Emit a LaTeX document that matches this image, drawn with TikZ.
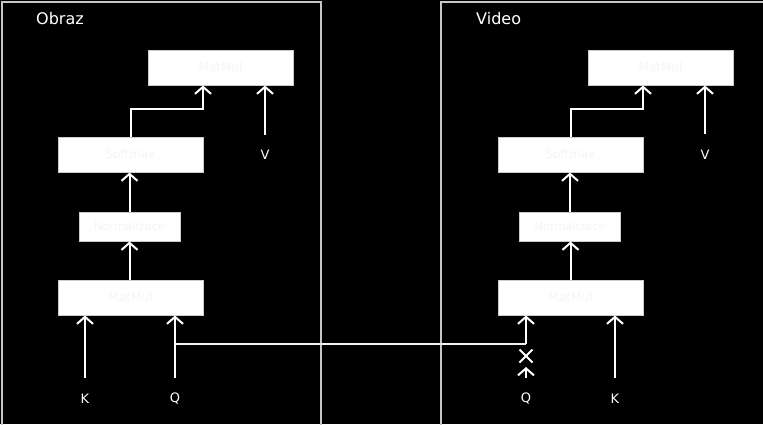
\documentclass[tikz,border=0pt]{standalone}
\usepackage{fontspec}
\setmainfont{DejaVu Sans}
\usetikzlibrary{arrows.meta,shapes.misc}
\begin{document}
\begin{tikzpicture}[x=1pt,y=-1pt,
  panel/.style={draw=gray!45!white,line width=2pt},
  box/.style={draw=gray!40!white,fill=white,line width=1pt,text=white!96!black,font=\fontsize{12}{14}\selectfont,inner sep=0pt},
  wide/.style={box,minimum width=145pt,minimum height=35pt},
  narrow/.style={box,minimum width=101pt,minimum height=29pt,font=\fontsize{11.5}{13}\selectfont},
  arr/.style={draw=white,line width=2pt,-{Straight Barb[length=7pt,width=16pt]}},
  conn/.style={draw=white!90!gray,line width=2pt},
  lbl/.style={text=white,font=\fontsize{13}{15}\selectfont,inner sep=0pt},
  ttl/.style={text=white,font=\fontsize{16}{18}\selectfont,inner sep=0pt,anchor=west},
  xmark/.style={cross out,draw=white,line width=2pt,minimum width=11pt,minimum height=11pt,inner sep=0pt}
]
\fill[black] (0,0) rectangle (763,424);
\useasboundingbox (0,0) rectangle (763,424);
% panels
\draw[panel] (2,428) -- (2,2) -- (321,2) -- (321,428);
\draw[panel] (441,428) -- (441,2) -- (766,2);
\node[ttl] (tObraz) at (36,19) {Obraz};
\node[ttl] (tVideo) at (476,19) {Video};
% left column
\node[wide] (mmTopL) at (220.5,67.5) {MatMul};
\node[wide] (smL) at (130.5,154.5) {Softmax};
\node[narrow] (nL) at (129.5,226.5) {Normalizace};
\node[wide] (mmL) at (130.5,297.5) {MatMul};
\coordinate (vL) at (265,135);
\coordinate (kL) at (85,378);
\coordinate (qL) at (175,378);
\coordinate (qJ) at (175,344);
\node[lbl] (labVL) at (265,155) {V};
\node[lbl] (labKL) at (85,399) {K};
\node[lbl] (labQL) at (175,399) {Q};
\draw[arr] (smL.north) -- ++(0,-28) -| ([xshift=-17.5pt]mmTopL.south);
\draw[arr] (vL) -- (vL |- mmTopL.south);
\draw[arr] (nL.north) -- (nL.north |- smL.south);
\draw[arr] ([xshift=-1pt]mmL.north) -- ([xshift=-1pt]mmL.north |- nL.south);
\draw[arr] (kL) -- (kL |- mmL.south);
\draw[arr] (qL) -- (qL |- mmL.south);
% right column
\node[wide] (mmTopR) at (660.5,67.5) {MatMul};
\node[wide] (smR) at (570.5,154.5) {Softmax};
\node[narrow] (nR) at (570,226.5) {Normalizace};
\node[wide] (mmR) at (570.5,297.5) {MatMul};
\coordinate (vR) at (705,134);
\coordinate (kR) at (615,378);
\coordinate (qR) at (526,378);
\coordinate (qRt) at (526,367);
\node[lbl] (labVR) at (705,155) {V};
\node[lbl] (labKR) at (615,399) {K};
\node[lbl] (labQR) at (526,399) {Q};
\node[xmark] (xR) at (526,356) {};
\draw[arr] (smR.north) -- ++(0,-28) -| ([xshift=-17.5pt]mmTopR.south);
\draw[arr] (vR) -- (vR |- mmTopR.south);
\draw[arr] (nR.north) -- (nR.north |- smR.south);
\draw[arr] (mmR.north) -- (mmR.north |- nR.south);
\draw[arr] (kR) -- (kR |- mmR.south);
\draw[arr] (qR) -- (qRt);
% connector Q -> right MatMul
\draw[conn] (qJ) -- (qJ -| qR);
\draw[arr] (qJ -| qR) -- (qR |- mmR.south);
\end{tikzpicture}
\end{document}
